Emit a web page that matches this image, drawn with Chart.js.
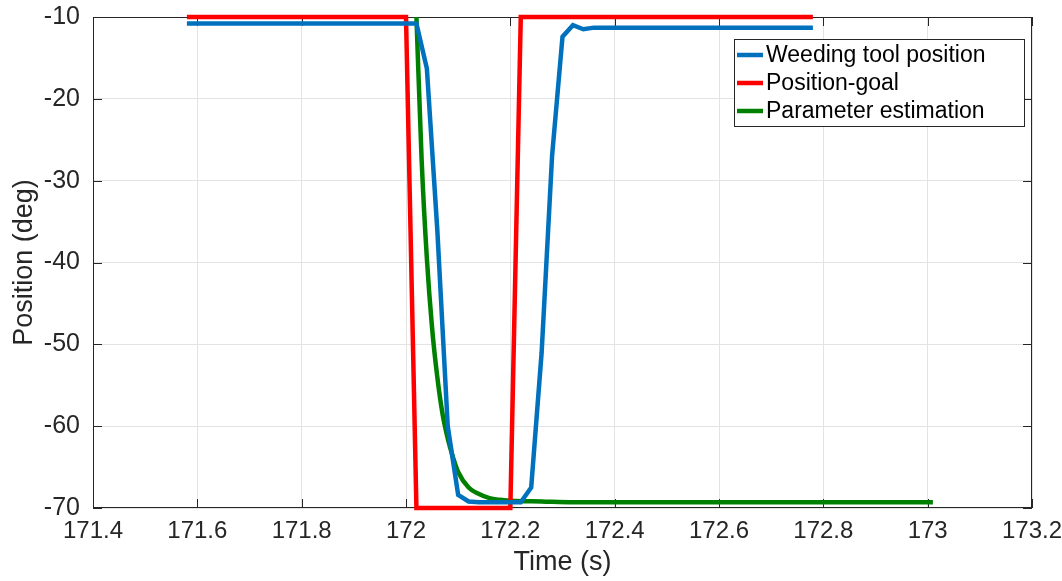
<!DOCTYPE html>
<html>
<head>
<meta charset="utf-8">
<script src="https://cdn.jsdelivr.net/npm/chart.js@4"></script>
<style>
  html, body { margin: 0; padding: 0; background: #fff; }
  #wrap { width: 1062px; height: 581px; }
</style>
</head>
<body>
<div id="wrap"><canvas id="chart" width="1062" height="581"></canvas></div>
<script>
// data
const seriesNames = ["Weeding tool position", "Position-goal", "Parameter estimation"];
const seriesColors = ["#0072BD", "#FF0000", "#008000"];

const toolTime = [171.58, 172.02, 172.04, 172.06, 172.08, 172.10, 172.12, 172.14, 172.22, 172.24, 172.26, 172.28, 172.30, 172.32, 172.34, 172.36, 172.78];
const toolPos  = [-10.8, -10.8, -16.3, -36, -60, -68.4, -69.2, -69.3, -69.3, -67.5, -51, -27, -12.4, -11, -11.5, -11.3, -11.3];

const goalTime = [171.58, 172.00, 172.02, 172.20, 172.22, 172.78];
const goalPos  = [-10, -10, -70, -70, -10, -10];

const estTime = [172.02, 172.03, 172.04, 172.05, 172.06, 172.07, 172.08, 172.09, 172.10, 172.12, 172.14, 172.16, 172.18, 172.20, 172.26, 172.32, 173.01];
const estPos  = [-10, -27.5, -39.5, -48, -54, -58.5, -61.5, -63.8, -65.6, -67.5, -68.3, -68.8, -69.0, -69.1, -69.2, -69.3, -69.3];

const xTicks = [171.4, 171.6, 171.8, 172, 172.2, 172.4, 172.6, 172.8, 173, 173.2];
const yTicks = [-70, -60, -50, -40, -30, -20, -10];

const txt = "#262626";
const fontFam = "'Liberation Sans', Arial, Helvetica, sans-serif";

function pts(t, v) {
  return t.map((x, i) => ({ x: x, y: v[i] }));
}

// box, inward ticks and legend, MATLAB style
const boxPlugin = {
  id: "box",
  beforeDatasetsDraw(chart) {
    const ctx = chart.ctx;
    const a = chart.chartArea;
    const xs = chart.scales.x, ys = chart.scales.y;
    ctx.save();
    ctx.strokeStyle = txt;
    ctx.lineWidth = 1;
    ctx.strokeRect(a.left + 0.5, a.top + 0.5, a.right - a.left - 1, a.bottom - a.top - 1);
    ctx.beginPath();
    const tl = 9;
    xTicks.forEach(v => {
      const px = Math.round(xs.getPixelForValue(v)) + 0.5;
      ctx.moveTo(px, a.bottom); ctx.lineTo(px, a.bottom - tl);
      ctx.moveTo(px, a.top); ctx.lineTo(px, a.top + tl);
    });
    yTicks.forEach(v => {
      const py = Math.round(ys.getPixelForValue(v)) + 0.5;
      ctx.moveTo(a.left, py); ctx.lineTo(a.left + tl, py);
      ctx.moveTo(a.right, py); ctx.lineTo(a.right - tl, py);
    });
    ctx.stroke();
    ctx.restore();
  },
  afterDraw(chart) {
    const ctx = chart.ctx;
    const a = chart.chartArea;
    const w = 290, h = 87;
    const x0 = a.right - 8 - w, y0 = a.top + 22;
    ctx.save();
    ctx.fillStyle = "#fff";
    ctx.fillRect(x0, y0, w, h);
    ctx.strokeStyle = txt;
    ctx.lineWidth = 1;
    ctx.strokeRect(x0 + 0.5, y0 + 0.5, w, h);
    ctx.font = "23px " + fontFam;
    ctx.textBaseline = "middle";
    chart.data.datasets.forEach((ds, i) => {
      const y = y0 + 16 + i * 28;
      ctx.strokeStyle = ds.borderColor;
      ctx.lineWidth = 4.5;
      ctx.beginPath();
      ctx.moveTo(x0 + 3, y); ctx.lineTo(x0 + 29, y);
      ctx.stroke();
      ctx.fillStyle = "#000";
      ctx.fillText(ds.label, x0 + 32, y + 1);
    });
    ctx.restore();
  }
};

const ctx = document.getElementById("chart").getContext("2d");
new Chart(ctx, {
  type: "line",
  data: {
    datasets: [
      { label: seriesNames[0], data: pts(toolTime, toolPos), borderColor: seriesColors[0] },
      { label: seriesNames[1], data: pts(goalTime, goalPos), borderColor: seriesColors[1] },
      { label: seriesNames[2], data: pts(estTime, estPos), borderColor: seriesColors[2], cubicInterpolationMode: "monotone" }
    ].map(d => Object.assign({ borderWidth: 4.5, pointRadius: 0, tension: 0, fill: false, clip: false, borderJoinStyle: "miter" }, d))
  },
  options: {
    responsive: false,
    animation: false,
    layout: { padding: { top: 17, right: 30, left: 0, bottom: 0 } },
    plugins: { legend: { display: false }, tooltip: { enabled: false } },
    scales: {
      x: {
        type: "linear",
        min: 171.4, max: 173.2,
        afterBuildTicks: s => { s.ticks = xTicks.map(v => ({ value: v })); },
        afterFit: s => { s.height = 73; s.paddingLeft = 0; s.paddingRight = 0; },
        ticks: {
          color: txt, font: { size: 24, family: fontFam }, padding: 9, maxRotation: 0,
          callback: v => String(Math.round(v * 10) / 10)
        },
        grid: { color: "#e3e3e3", drawTicks: false },
        border: { display: false },
        title: { display: true, text: "Time (s)", color: txt, font: { size: 27, family: fontFam }, padding: { top: 0, bottom: 2 } }
      },
      y: {
        min: -70, max: -10,
        afterBuildTicks: s => { s.ticks = yTicks.map(v => ({ value: v })); },
        afterFit: s => { s.width = 93; s.paddingTop = 0; s.paddingBottom = 0; },
        ticks: { color: txt, font: { size: 25, family: fontFam }, padding: 13 },
        grid: { color: "#e3e3e3", drawTicks: false },
        border: { display: false },
        title: { display: true, text: "Position (deg)", color: txt, font: { size: 27, family: fontFam }, padding: { top: 8, bottom: 0 } }
      }
    }
  },
  plugins: [boxPlugin]
});
</script>
</body>
</html>
